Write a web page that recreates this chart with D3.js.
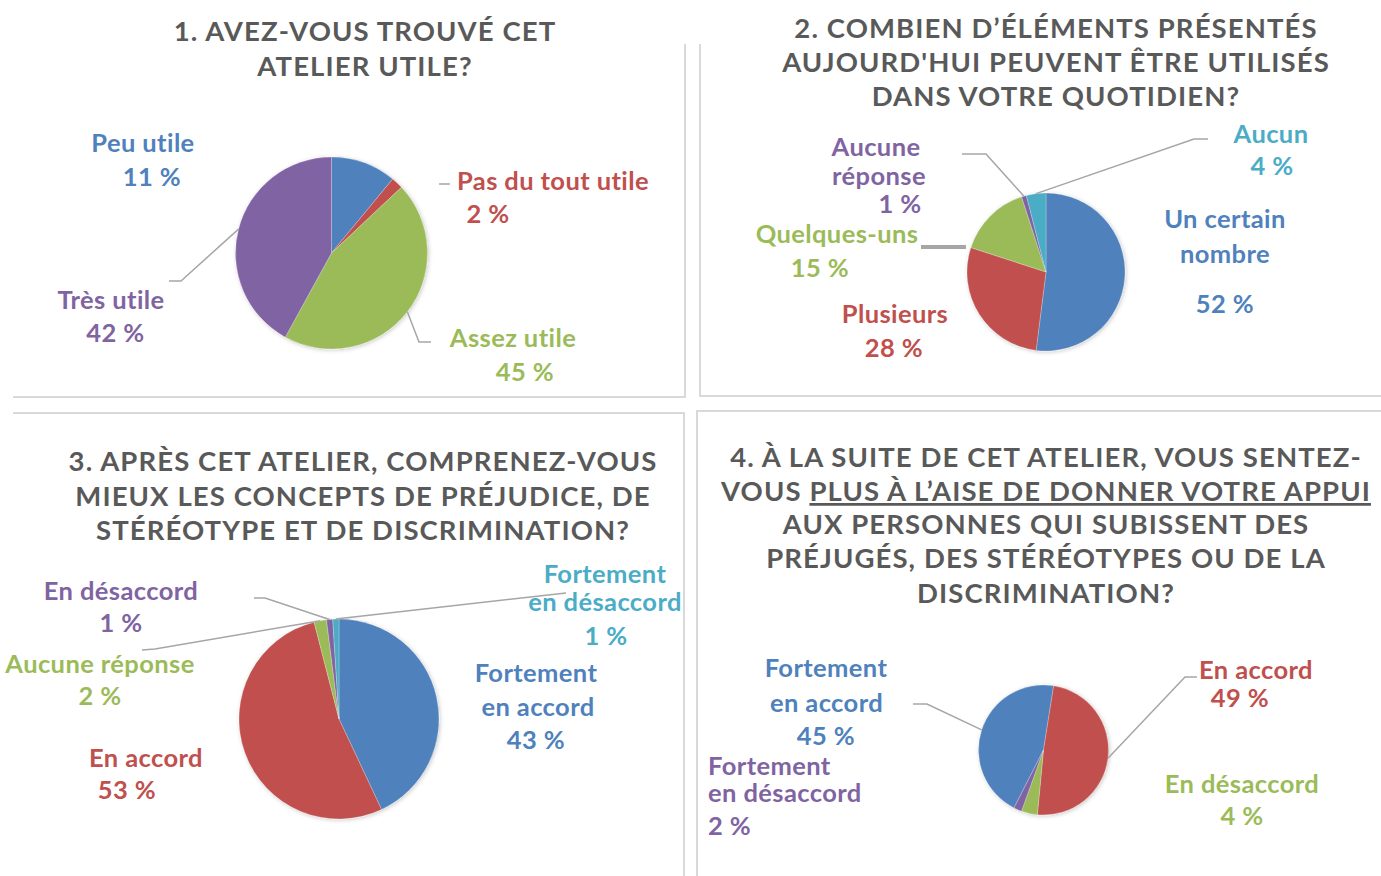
<!DOCTYPE html>
<html><head><meta charset="utf-8">
<script src="https://cdn.jsdelivr.net/npm/d3@7"></script>
<style>
html,body{margin:0;padding:0;background:#fff;}
svg{display:block;}
text{font-family:Lato,"Open Sans",sans-serif;font-weight:700;}
</style></head><body>
<svg id="chart" width="1381" height="876"></svg>
<script>
// ---------- DATA ----------
const q1Title = ["1. AVEZ-VOUS TROUVÉ CET", "ATELIER UTILE?"];
const q1Categories = ["Peu utile", "Pas du tout utile", "Assez utile", "Très utile"];
const q1Values = [11, 2, 45, 42];

const q2Title = ["2. COMBIEN D’ÉLÉMENTS PRÉSENTÉS", "AUJOURD'HUI PEUVENT ÊTRE UTILISÉS", "DANS VOTRE QUOTIDIEN?"];
const q2Categories = ["Un certain\nnombre", "Plusieurs", "Quelques-uns", "Aucune\nréponse", "Aucun"];
const q2Values = [52, 28, 15, 1, 4];

const q3Title = ["3. APRÈS CET ATELIER, COMPRENEZ-VOUS", "MIEUX LES CONCEPTS DE PRÉJUDICE, DE", "STÉRÉOTYPE ET DE DISCRIMINATION?"];
const q3Categories = ["Fortement\nen accord", "En accord", "Aucune réponse", "En désaccord", "Fortement\nen désaccord"];
const q3Values = [43, 53, 2, 1, 1];

const q4Title = ["4. À LA SUITE DE CET ATELIER, VOUS SENTEZ-", "VOUS PLUS À L’AISE DE DONNER VOTRE APPUI", "AUX PERSONNES QUI SUBISSENT DES", "PRÉJUGÉS, DES STÉRÉOTYPES OU DE LA", "DISCRIMINATION?"];
const q4Underlined = "PLUS À L’AISE DE DONNER VOTRE APPUI";
const q4Categories = ["Fortement\nen accord", "En accord", "En désaccord", "Fortement\nen désaccord"];
const q4Values = [45, 49, 4, 2];

const palette = ["#4F81BD", "#C0504D", "#9BBB59", "#8064A2", "#4BACC6"];

// ---------- LAYOUT ----------
const deg = Math.PI / 180;
const panels = [
  { title: q1Title, cats: q1Categories, vals: q1Values,
    cx: 331.5, cy: 253, r: 96, start: 0,
    titleX: 365, titleY: [41, 76],
    labels: [
      { anchor: "middle", pos: [[143, 152], [152, 186]] },
      { anchor: "middle", pos: [[553, 190], [488, 223]] },
      { anchor: "middle", pos: [[513, 347], [525, 381]] },
      { anchor: "middle", pos: [[111, 309], [115.5, 342]] }
    ],
    leaders: [null, { pts: [[439, 184], [450, 184]], free: true }, { pts: [[431, 342], [419, 342]] }, { pts: [[169, 281], [181, 281]] }]
  },
  { title: q2Title, cats: q2Categories, vals: q2Values,
    cx: 1046, cy: 272, r: 79, start: 0,
    titleX: 1056, titleY: [38, 72, 106],
    labels: [
      { anchor: "middle", pos: [[1225, 228], [1225, 263], [1225, 313]] },
      { anchor: "middle", pos: [[895, 323], [894, 357]] },
      { anchor: "middle", pos: [[837, 243], [820, 277]] },
      { anchor: "middle", pos: [[876, 156], [879, 185], [900, 213]] },
      { anchor: "middle", pos: [[1271, 143], [1272, 175]] }
    ],
    leaders: [null, null, { pts: [[921, 247], [966, 247]], free: true, width: 4 }, { pts: [[962, 154], [986, 154]] }, { pts: [[1208, 139], [1194, 139]] }]
  },
  { title: q3Title, cats: q3Categories, vals: q3Values,
    cx: 339, cy: 719, r: 100, start: 0,
    titleX: 363, titleY: [471, 506, 540],
    labels: [
      { anchor: "middle", pos: [[536, 682], [538, 716], [536, 749]] },
      { anchor: "middle", pos: [[146, 767], [127, 799]] },
      { anchor: "middle", pos: [[100, 673], [100, 705]] },
      { anchor: "middle", pos: [[121, 600], [121, 632]] },
      { anchor: "middle", pos: [[605, 583], [605, 611], [606, 645]] }
    ],
    leaders: [null, null, { pts: [[142, 650], [155, 649]] }, { pts: [[254, 598], [265, 598]] }, { pts: [[566, 593]] }]
  },
  { title: q4Title, cats: q4Categories, vals: q4Values,
    cx: 1043.5, cy: 750, r: 65, start: -153 * deg,
    titleX: 1046, titleY: [467, 501, 534, 568, 603],
    labels: [
      { anchor: "middle", pos: [[826, 677], [826.5, 712], [826, 745]] },
      { anchor: "middle", pos: [[1256, 679], [1240, 707]] },
      { anchor: "middle", pos: [[1242, 793], [1242, 825]] },
      { anchor: "start", pos: [[708, 775], [708, 802], [708, 835]] }
    ],
    leaders: [{ pts: [[913, 704], [927, 704]] }, { pts: [[1197, 677], [1185, 677]] }, null, null]
  }
];

// ---------- DRAW ----------
const svg = d3.select("#chart");
svg.append("rect").attr("width", 1381).attr("height", 876).attr("fill", "#fff");

const defs = svg.append("defs");
const f = defs.append("filter").attr("id", "shadow").attr("x", "-20%").attr("y", "-20%").attr("width", "140%").attr("height", "140%");
f.append("feDropShadow").attr("dx", 1).attr("dy", 1).attr("stdDeviation", 2).attr("flood-color", "#000").attr("flood-opacity", 0.22);

// panel borders
const borders = [
  [[685, 44], [685, 397], [13, 397]],
  [[700, 44], [700, 396], [1381, 396]],
  [[13, 413], [684, 413], [684, 876]],
  [[1381, 411], [697, 411], [697, 876]]
];
svg.append("g").selectAll("path").data(borders).join("path")
  .attr("d", d => d3.line()(d)).attr("fill", "none")
  .attr("stroke", "#d9d9d9").attr("stroke-width", 2);

const TITLE_SIZE = 27.5, TITLE_SPACING = 1.1, LABEL_SIZE = 25.5, LABEL_SPACING = 0.4;

panels.forEach((p, pi) => {
  const g = svg.append("g");
  // title
  const tt = g.append("g").attr("fill", "#595959").attr("font-size", TITLE_SIZE).attr("letter-spacing", TITLE_SPACING);
  p.title.forEach((line, li) => {
    const t = tt.append("text").attr("x", p.titleX).attr("y", p.titleY[li]).attr("text-anchor", "middle");
    if (pi === 3 && line.includes(q4Underlined)) {
      const idx = line.indexOf(q4Underlined);
      t.append("tspan").text(line.slice(0, idx));
      t.append("tspan").attr("text-decoration", "underline").text(q4Underlined);
      t.append("tspan").text(line.slice(idx + q4Underlined.length));
    } else t.text(line);
  });

  const pie = d3.pie().sort(null).value(d => d).startAngle(p.start).endAngle(p.start + 2 * Math.PI);
  const arcs = pie(p.vals);
  const arc = d3.arc().innerRadius(0).outerRadius(p.r);
  const pg = g.append("g").attr("transform", `translate(${p.cx},${p.cy})`);
  pg.append("g").attr("filter", "url(#shadow)").selectAll("path").data(arcs).join("path")
    .attr("d", arc).attr("fill", (d, i) => palette[i])
    .attr("stroke", "#fff").attr("stroke-width", 0.4).attr("stroke-opacity", 0.6);

  // leaders
  arcs.forEach((a, i) => {
    const L = p.leaders[i];
    if (!L) return;
    let pts = L.pts.slice();
    if (!L.free) {
      const m = (a.startAngle + a.endAngle) / 2;
      pts.push([p.cx + p.r * Math.sin(m), p.cy - p.r * Math.cos(m)]);
    }
    g.append("path").attr("d", d3.line()(pts)).attr("fill", "none")
      .attr("stroke", "#a6a6a6").attr("stroke-width", L.width || 1.5);
  });

  // labels
  arcs.forEach((a, i) => {
    const L = p.labels[i];
    const lines = p.cats[i].split("\n").concat([`${p.vals[i]} %`]);
    const lt = g.append("g").attr("fill", palette[i]).attr("font-size", LABEL_SIZE).attr("letter-spacing", LABEL_SPACING);
    lines.forEach((s, k) => {
      lt.append("text").attr("x", L.pos[k][0]).attr("y", L.pos[k][1])
        .attr("text-anchor", L.anchor).text(s);
    });
  });
});
</script>
</body></html>
